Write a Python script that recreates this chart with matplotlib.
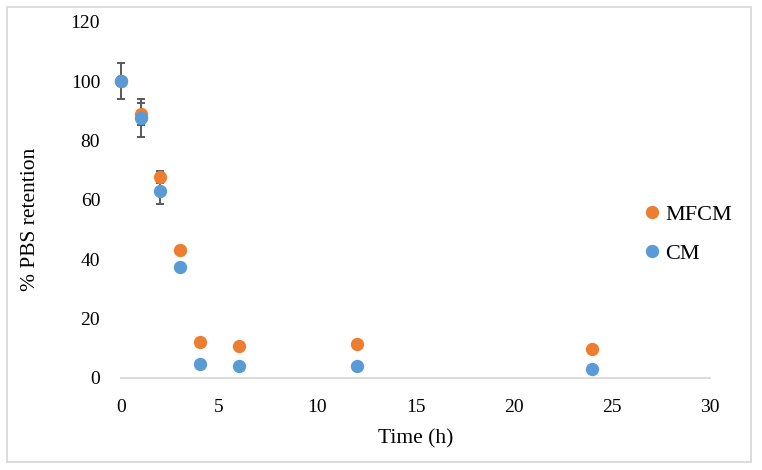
import matplotlib
matplotlib.use("Agg")
import matplotlib.pyplot as plt
from matplotlib.patches import Rectangle

time_h = [0, 1, 2, 3, 4, 6, 12, 24]
mfcm = [100, 88.9, 67.6, 42.9, 12.2, 10.8, 11.5, 9.8]
mfcm_err = [0, 3.6, 2.1, 1.3, 0.5, 0.5, 0.5, 0.5]
cm = [100, 87.6, 62.9, 37.2, 4.7, 4.1, 3.8, 2.8]
cm_err = [6.2, 6.4, 4.3, 1.0, 0.5, 0.5, 0.5, 0.5]
xticks = [0, 5, 10, 15, 20, 25, 30]
yticks = [0, 20, 40, 60, 80, 100, 120]

plt.rcParams['font.family'] = ['Liberation Serif', 'DejaVu Serif']

W, H = 762, 470
fig = plt.figure(figsize=(W / 100, H / 100), dpi=100)
fig.patches.append(Rectangle((6.5 / W, 1 - 462 / H), (751 - 6.5) / W, (462 - 6.5) / H,
                             transform=fig.transFigure, fill=False,
                             edgecolor='#d9d9d9', linewidth=1.3))
x0, x1, yb, yt = 121, 710, 377.7, 21.7
ax = fig.add_axes([x0 / W, 1 - yb / H, (x1 - x0) / W, (yb - yt) / H])

orange = '#ED7D31'
blue = '#5B9BD5'
ecol = '#595959'

ax.errorbar(time_h, mfcm, yerr=mfcm_err, fmt='none', ecolor=ecol, elinewidth=1.4,
            capsize=2.6, capthick=1.4, zorder=2)
ax.errorbar(time_h, cm, yerr=cm_err, fmt='none', ecolor=ecol, elinewidth=1.4,
            capsize=2.6, capthick=1.4, zorder=2)
ax.plot(time_h, mfcm, 'o', color=orange, ms=9.6, mew=0, label='MFCM', zorder=3)
ax.plot(time_h, cm, 'o', color=blue, ms=9.6, mew=0, label='CM', zorder=4)

ax.set_xlim(0, 30)
ax.set_ylim(0, 120)
ax.set_xticks(xticks)
ax.set_yticks(yticks)
for s in ['top', 'right', 'left']:
    ax.spines[s].set_visible(False)
ax.spines['bottom'].set_color('#d9d9d9')
ax.spines['bottom'].set_linewidth(1.3)
ax.tick_params(axis='both', length=0, labelsize=14, colors='#000000')
ax.tick_params(axis='x', pad=15)
ax.tick_params(axis='y', pad=15)
for line in ax.lines:
    line.set_clip_on(False)
for c in ax.collections:
    c.set_clip_on(False)

ax.set_xlabel('Time (h)', fontsize=15.5)
ax.set_ylabel('% PBS retention', fontsize=15.5)
ax.xaxis.set_label_coords(0.5, (yb - 429) / (yb - yt))
ax.yaxis.set_label_coords((40 - x0) / (x1 - x0), (yb - 219) / (yb - yt))

leg = ax.legend(loc='center left', bbox_to_anchor=((630 - x0) / (x1 - x0), (yb - 234) / (yb - yt)),
                frameon=False, fontsize=16, handletextpad=0.0, labelspacing=0.85,
                handlelength=1.2, borderaxespad=0)

fig.savefig('out.png', dpi=100)
